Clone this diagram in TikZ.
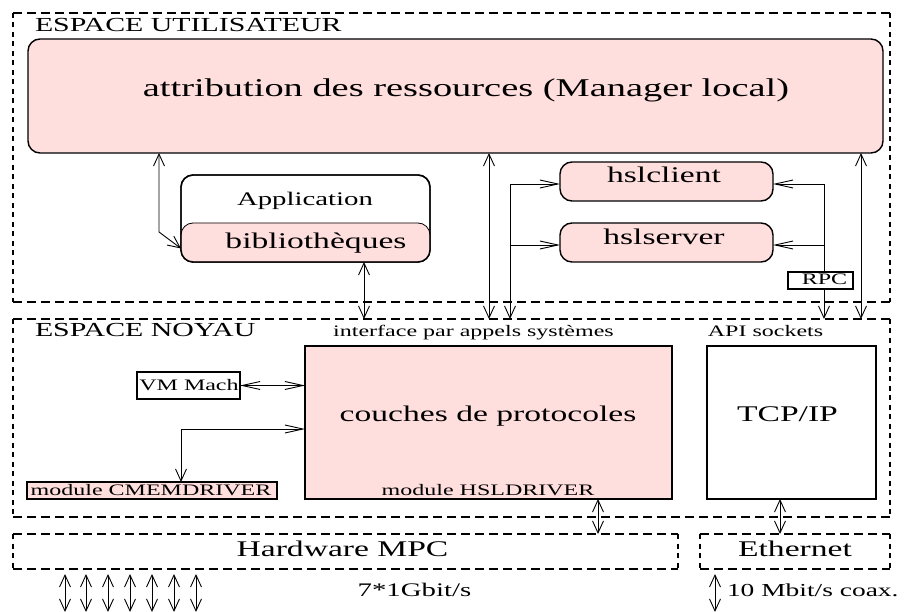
\documentclass[tikz,border=0pt]{standalone}
\usepackage{fontspec}
\setmainfont{Liberation Serif}
\usepackage{graphicx}
\usetikzlibrary{arrows.meta}
\definecolor{pinkfill}{RGB}{255,222,222}
\newcommand{\tx}[2]{\scalebox{1.5}[1]{\fontsize{#1pt}{#1pt}\selectfont #2}}
\newcommand{\dashedarea}[1]{%
  \draw[hd] (#1.north west) -- (#1.north east);
  \draw[hd] (#1.south west) -- (#1.south east);
  \draw[vd] (#1.north west) -- (#1.south west);
  \draw[vd] (#1.north east) -- (#1.south east);}
\tikzset{
  bx/.style={draw, line width=1.4pt, inner sep=0pt, outer sep=0pt, anchor=north west},
  rbx/.style={bx, rounded corners=12pt},
  pk/.style={fill=pinkfill},
  area/.style={inner sep=0pt, outer sep=0pt, anchor=north west},
  hd/.style={line width=1.4pt, dash pattern=on 8.5pt off 5.5pt},
  vd/.style={line width=1.4pt, dash pattern=on 5pt off 4.5pt},
  lbl/.style={inner sep=0pt, outer sep=0pt, anchor=base},
  con/.style={line width=0.9pt},
  myV/.tip={Straight Barb[length=12pt,width=11pt]},
  myH/.tip={Straight Barb[length=18pt,width=8pt]},
}
\begin{document}
\begin{tikzpicture}[x=1pt,y=-1pt]
\useasboundingbox (0,0) rectangle (905,612);
% dashed areas
\node[area, minimum width=877pt, minimum height=289pt] (user) at (13,13) {};
\node[area, minimum width=877pt, minimum height=198pt] (kern) at (13,319) {};
\node[area, minimum width=665pt, minimum height=35pt] (hw) at (13,534) {};
\node[area, minimum width=190pt, minimum height=35pt] (eth) at (700,534) {};
\dashedarea{user}
\dashedarea{kern}
\dashedarea{hw}
\dashedarea{eth}
% boxes
\node[rbx, pk, minimum width=855pt, minimum height=114pt] (mgr) at (28,39) {};
\node[rbx, fill=white, minimum width=249pt, minimum height=87pt] (app) at (181,175) {};
\node[rbx, pk, line width=0.8pt, minimum width=249pt, minimum height=39pt] (lib) at (181,223) {};
\draw[line width=1.4pt, rounded corners=12pt] (app.north west) rectangle (app.south east);
\node[rbx, pk, minimum width=213pt, minimum height=39pt] (hc) at (560,162) {};
\node[rbx, pk, minimum width=213pt, minimum height=39pt] (hs) at (560,223) {};
\node[bx, pk, line width=1.2pt, minimum width=367pt, minimum height=153pt] (proto) at (305,346) {};
\node[bx, fill=white, line width=1.2pt, minimum width=169pt, minimum height=153pt] (tcp) at (707,346) {};
\node[bx, fill=white, minimum width=103pt, minimum height=27pt] (vm) at (137,372) {};
\node[bx, pk, minimum width=250pt, minimum height=17pt] (cmem) at (27,482) {};
% connectors
\coordinate (b1) at (159,232);
\draw[con, myV-myV] ([xshift=131pt]mgr.south west) -- (b1) -- ([yshift=-6pt]lib.west);
\coordinate (a2) at ([xshift=183pt]lib.south west);
\draw[con, myV-myV] (a2) -- (a2 |- kern.north);
\coordinate (a3) at ([xshift=461pt]mgr.south west);
\draw[con, myV-myV] (a3) -- (a3 |- kern.north);
\coordinate (a6) at ([xshift=833pt]mgr.south west);
\draw[con, myV-myV] (a6) -- (a6 |- kern.north);
\coordinate (hcw) at ([yshift=-2.5pt]hc.west);
\coordinate (hsw) at ([yshift=-2.5pt]hs.west);
\coordinate (hce) at ([yshift=-2.5pt]hc.east);
\coordinate (hse) at ([yshift=-2.5pt]hs.east);
\coordinate (k1) at ([xshift=497pt]kern.north west);
\coordinate (k2) at ([xshift=811pt]kern.north west);
\draw[con, myH-myV] (hcw) -- (hcw -| k1) -- (k1);
\draw[con, myH-] (hsw) -- (hsw -| k1);
\draw[con, myH-myV] (hce) -- (hce -| k2) -- (k2);
\draw[con, myH-] (hse) -- (hse -| k2);
\draw[con, myH-myH] (vm.east) -- (vm.east -| proto.west);
\coordinate (p1) at ([yshift=-6.5pt]proto.west);
\coordinate (c1) at ([xshift=154pt]cmem.north west);
\draw[con, myH-myV] (p1) -- (p1 -| c1) -- (c1);
\coordinate (p2) at ([xshift=293pt]proto.south west);
\draw[con, myV-myV] (p2) -- (p2 |- hw.north);
\coordinate (t2) at ([xshift=73pt]tcp.south west);
\draw[con, myV-myV] (t2) -- (t2 |- eth.north);
\foreach \i/\x in {1/65,2/86,3/108,4/130,5/152,6/174,7/196} {
  \coordinate (g\i a) at (\x,574);
  \coordinate (g\i b) at (\x,612);
  \draw[con, myV-myV] (g\i a) -- (g\i b);
}
\coordinate (e1) at (715,574);
\coordinate (e2) at (715,612);
\draw[con, myV-myV] (e1) -- (e2);
\node[bx, fill=white, line width=1.1pt, minimum width=65pt, minimum height=17pt] (rpc) at (788,272) {};
% labels
\node[lbl, anchor=base west] (tU) at (35,32) {\tx{19.9}{ESPACE UTILISATEUR}};
\node[lbl] (tmgr) at (466,97) {\tx{25.6}{attribution des ressources (Manager local)}};
\node[lbl] (tapp) at (305,206) {\tx{19.2}{Application}};
\node[lbl] (tlib) at (316,249) {\tx{22.4}{biblioth\`eques}};
\node[lbl] (thc) at (664,183) {\tx{22.4}{hslclient}};
\node[lbl] (ths) at (664,245) {\tx{22.4}{hslserver}};
\node[lbl] (trpc) at (824.5,285) {\tx{16}{RPC}};
\node[lbl, anchor=base west] (tK) at (35,337) {\tx{19.9}{ESPACE NOYAU}};
\node[lbl] (tif) at (473.5,337) {\tx{16}{interface par appels syst\`emes}};
\node[lbl] (tapi) at (765.5,337) {\tx{16}{API sockets}};
\node[lbl] (tvm) at (189,390) {\tx{16}{VM Mach}};
\node[lbl] (tproto) at (488,421) {\tx{22.4}{couches de protocoles}};
\node[lbl] (thsl) at (488,495) {\tx{16}{module HSLDRIVER}};
\node[lbl] (tcmem) at (151,495) {\tx{16}{module CMEMDRIVER}};
\node[lbl] (ttcp) at (787.5,421) {\tx{22.4}{TCP/IP}};
\node[lbl] (thw) at (342.5,556) {\tx{22.4}{Hardware MPC}};
\node[lbl] (teth) at (795,556) {\tx{22.4}{Ethernet}};
\node[lbl] (tg) at (414.5,596) {\tx{19.2}{7*1Gbit/s}};
\node[lbl, anchor=base west] (tm) at (727,596) {\tx{18.3}{10 Mbit/s coax.}};
\end{tikzpicture}
\end{document}
